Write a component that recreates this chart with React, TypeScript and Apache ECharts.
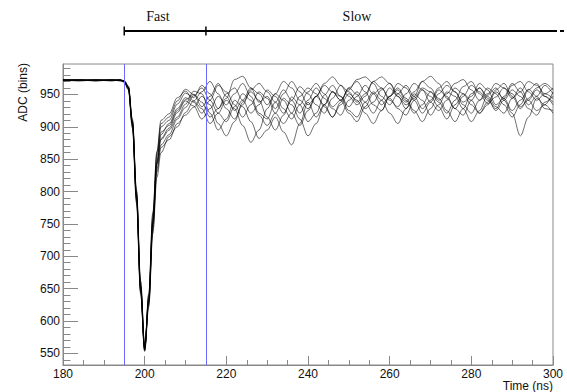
import { useEffect, useRef } from "react";
import * as echarts from "echarts";

// Sample times (ns)
const times = [
  180, 184, 188, 192, 194, 195, 196, 197, 198, 199, 200, 201, 202, 203, 204,
  206, 208, 210, 212, 214, 216, 218, 220, 222, 224, 226, 228, 230, 232, 234, 236,
  238, 240, 242, 244, 246, 248, 250, 252, 254, 256, 258, 260, 262, 264, 266, 268,
  270, 272, 274, 276, 278, 280, 282, 284, 286, 288, 290, 292, 294, 296, 298, 300,
];

// ADC waveforms (bins)
const wave1 = [972, 973, 971, 972, 972, 970, 960, 905, 792, 650, 557, 632, 752, 845, 892,
  902, 925, 942, 950, 938, 915, 928, 951, 960, 941, 921, 934, 957, 947, 928, 912, 934, 954, 967, 951, 931, 941, 960, 950, 928, 938, 957, 967, 947, 934, 944, 960, 954, 938, 921, 941, 962, 970, 951, 936, 946, 960, 951, 931, 941, 957, 947, 938];
const wave2 = [973, 972, 972, 971, 973, 971, 962, 910, 800, 660, 560, 625, 740, 830, 868,
  880, 905, 918, 930, 947, 934, 905, 886, 908, 938, 954, 941, 915, 895, 918, 946, 934, 908, 921, 949, 964, 947, 925, 915, 938, 954, 941, 921, 905, 928, 951, 941, 918, 934, 954, 947, 928, 908, 925, 949, 960, 941, 921, 886, 915, 944, 934, 921];
const wave3 = [971, 972, 973, 972, 971, 969, 958, 900, 785, 645, 555, 638, 760, 855, 900,
  910, 935, 952, 945, 964, 951, 928, 944, 973, 978, 960, 938, 947, 928, 951, 970, 954, 934, 947, 964, 954, 941, 957, 973, 977, 967, 947, 934, 951, 964, 947, 928, 941, 960, 970, 954, 938, 947, 967, 957, 934, 944, 964, 970, 954, 941, 951, 960];
const wave4 = [972, 971, 972, 973, 972, 970, 961, 906, 795, 652, 558, 630, 750, 842, 880,
  895, 915, 935, 955, 951, 921, 895, 912, 941, 931, 908, 882, 895, 915, 892, 872, 905, 938, 915, 934, 954, 941, 921, 908, 931, 951, 960, 944, 928, 918, 941, 957, 947, 931, 912, 934, 951, 941, 921, 934, 954, 944, 925, 941, 958, 947, 928, 925];
const wave5 = [973, 972, 971, 972, 972, 971, 963, 912, 802, 662, 562, 635, 755, 848, 888,
  905, 928, 945, 938, 921, 941, 964, 954, 934, 915, 934, 954, 944, 921, 905, 921, 947, 960, 951, 931, 915, 938, 960, 970, 954, 934, 925, 947, 967, 960, 941, 921, 938, 957, 947, 928, 947, 964, 954, 941, 928, 947, 967, 954, 934, 947, 964, 951];
const wave6 = [972, 973, 972, 971, 972, 970, 959, 903, 790, 648, 556, 628, 745, 835, 872,
  888, 912, 930, 948, 960, 941, 921, 908, 931, 951, 941, 918, 902, 921, 944, 934, 912, 886, 905, 934, 954, 947, 931, 947, 964, 951, 934, 947, 960, 944, 925, 908, 928, 951, 964, 954, 934, 921, 941, 960, 951, 934, 915, 934, 957, 967, 947, 934];
const wave7 = [971, 972, 972, 972, 973, 970, 960, 904, 788, 646, 554, 640, 765, 860, 905,
  915, 940, 958, 950, 931, 947, 967, 947, 925, 941, 960, 951, 934, 951, 970, 960, 941, 928, 947, 967, 977, 964, 947, 934, 947, 970, 977, 967, 951, 938, 954, 970, 960, 941, 951, 967, 973, 957, 941, 951, 967, 960, 944, 954, 970, 964, 951, 944];
const wave8 = [972, 972, 973, 972, 971, 971, 962, 908, 797, 655, 559, 633, 752, 843, 882,
  898, 922, 940, 932, 912, 928, 947, 934, 951, 967, 947, 921, 912, 938, 957, 941, 921, 941, 960, 944, 928, 918, 941, 954, 938, 921, 941, 960, 947, 928, 947, 970, 978, 967, 944, 928, 918, 941, 960, 947, 931, 921, 944, 960, 941, 925, 934, 954];
const wave9 = [973, 971, 972, 972, 972, 969, 957, 898, 782, 642, 553, 622, 735, 822, 860,
  885, 900, 922, 940, 928, 905, 921, 941, 928, 902, 876, 895, 928, 951, 941, 921, 902, 925, 947, 934, 915, 934, 951, 941, 921, 905, 925, 947, 957, 941, 921, 934, 954, 944, 925, 908, 928, 951, 960, 944, 925, 941, 957, 947, 928, 918, 938, 947];
const wave10 = [972, 972, 971, 973, 972, 971, 961, 907, 794, 654, 558, 642, 768, 862, 910,
  920, 945, 955, 940, 954, 970, 951, 928, 912, 934, 957, 967, 954, 938, 921, 941, 962, 951, 934, 921, 944, 964, 954, 938, 951, 970, 960, 941, 931, 951, 967, 957, 938, 925, 941, 960, 951, 934, 921, 938, 957, 967, 947, 928, 944, 960, 967, 957];

const waves = [wave1, wave2, wave3, wave4, wave5, wave6, wave7, wave8, wave9, wave10];

// Fast / slow window boundaries (ns)
const fastStart = 195;
const fastEnd = 215;
const slowEnd = 300;

// Axis tick values
const yMajorTicks = [550, 600, 650, 700, 750, 800, 850, 900, 950];
const yMinorTicks = [540, 550, 560, 570, 580, 590, 600, 610, 620, 630, 640, 650, 660, 670, 680, 690,
  700, 710, 720, 730, 740, 750, 760, 770, 780, 790, 800, 810, 820, 830, 840, 850, 860, 870, 880, 890,
  900, 910, 920, 930, 940, 950, 960, 970, 980, 990];

const sans = "Liberation Sans, Arial, Helvetica, sans-serif";
const serif = "Liberation Serif, Times New Roman, serif";
const axisGray = "#888888";

export default function App() {
  const ref = useRef<HTMLDivElement>(null);

  useEffect(() => {
    const chart = echarts.init(ref.current!, undefined, { renderer: "svg" });
    const gridLeft = 63;
    const gridTop = 64;
    const gridRight = 14;
    const gridBottom = 27;

    chart.setOption({
      animation: false,
      backgroundColor: "#ffffff",
      grid: {
        left: gridLeft,
        top: gridTop,
        right: gridRight,
        bottom: gridBottom,
        show: true,
        borderColor: axisGray,
        borderWidth: 1,
        backgroundColor: "transparent",
      },
      xAxis: {
        type: "value",
        min: 180,
        max: 300,
        interval: 20,
        axisLine: { show: true, onZero: false, lineStyle: { color: axisGray, width: 1 } },
        axisTick: { show: true, inside: true, length: 9, lineStyle: { color: axisGray } },
        minorTick: { show: true, splitNumber: 4, length: 5, lineStyle: { color: axisGray } },
        splitLine: { show: false },
        minorSplitLine: { show: false },
        axisLabel: { color: "#111", fontSize: 12, fontFamily: sans, margin: 3 },
      },
      yAxis: [
        {
          type: "value",
          min: 532,
          max: 997,
          position: "left",
          axisLine: { show: true, onZero: false, lineStyle: { color: axisGray, width: 1 } },
          axisTick: { show: true, inside: true, length: 15, customValues: yMajorTicks, lineStyle: { color: axisGray } },
          splitLine: { show: false },
          axisLabel: { color: "#111", fontSize: 12, fontFamily: sans, margin: 3, customValues: yMajorTicks },
        },
        {
          type: "value",
          min: 532,
          max: 997,
          position: "right",
          offset: -(567 - gridLeft - gridRight),
          axisLine: { show: false },
          axisTick: { show: true, inside: false, length: 7.5, customValues: yMinorTicks, lineStyle: { color: axisGray } },
          splitLine: { show: false },
          axisLabel: { show: false },
        },
      ],
      series: waves.map((w, i) => ({
        type: "line",
        data: times.map((t, j) => [t, w[j]]),
        showSymbol: false,
        smooth: 0.35,
        smoothMonotone: "x",
        silent: true,
        lineStyle: { color: "#000", width: 0.8, opacity: 0.72 },
        markLine:
          i === 0
            ? {
                silent: true,
                symbol: ["none", "none"],
                label: { show: false },
                lineStyle: { color: "#6a6aff", width: 1, type: "solid", opacity: 1 },
                data: [{ xAxis: fastStart }, { xAxis: fastEnd }],
              }
            : undefined,
      })),
    });

    const px = (v: number) => chart.convertToPixel({ xAxisIndex: 0 }, v) as number;
    const x0 = px(fastStart);
    const x1 = px(fastEnd);
    const x2 = px(slowEnd);
    const yLine = 31;
    const capH = 4.5;

    chart.setOption({
      graphic: [
        { type: "line", shape: { x1: x0, y1: yLine, x2: x2, y2: yLine }, style: { stroke: "#000", lineWidth: 2 } },
        { type: "line", shape: { x1: x2, y1: yLine, x2: 567, y2: yLine }, style: { stroke: "#000", lineWidth: 2, lineDash: [4, 3] } },
        { type: "line", shape: { x1: x0, y1: yLine - capH, x2: x0, y2: yLine + capH }, style: { stroke: "#000", lineWidth: 1.5 } },
        { type: "line", shape: { x1: x1, y1: yLine - capH, x2: x1, y2: yLine + capH }, style: { stroke: "#000", lineWidth: 1.5 } },
        { type: "text", x: 158, y: 16, style: { text: "Fast", fill: "#111", font: `14px ${serif}`, textAlign: "center", textVerticalAlign: "middle" } },
        { type: "text", x: 357, y: 16, style: { text: "Slow", fill: "#111", font: `14px ${serif}`, textAlign: "center", textVerticalAlign: "middle" } },
        { type: "text", x: 23, y: 63, rotation: Math.PI / 2, style: { text: "ADC (bins)", fill: "#111", font: `12px ${sans}`, textAlign: "right", textVerticalAlign: "middle" } },
        { type: "text", x: 553, y: 386, style: { text: "Time (ns)", fill: "#111", font: `12px ${sans}`, textAlign: "right", textVerticalAlign: "middle" } },
      ],
    });

    return () => chart.dispose();
  }, []);

  return <div ref={ref} style={{ position: "fixed", left: 0, top: 0, width: 567, height: 392 }} />;
}
